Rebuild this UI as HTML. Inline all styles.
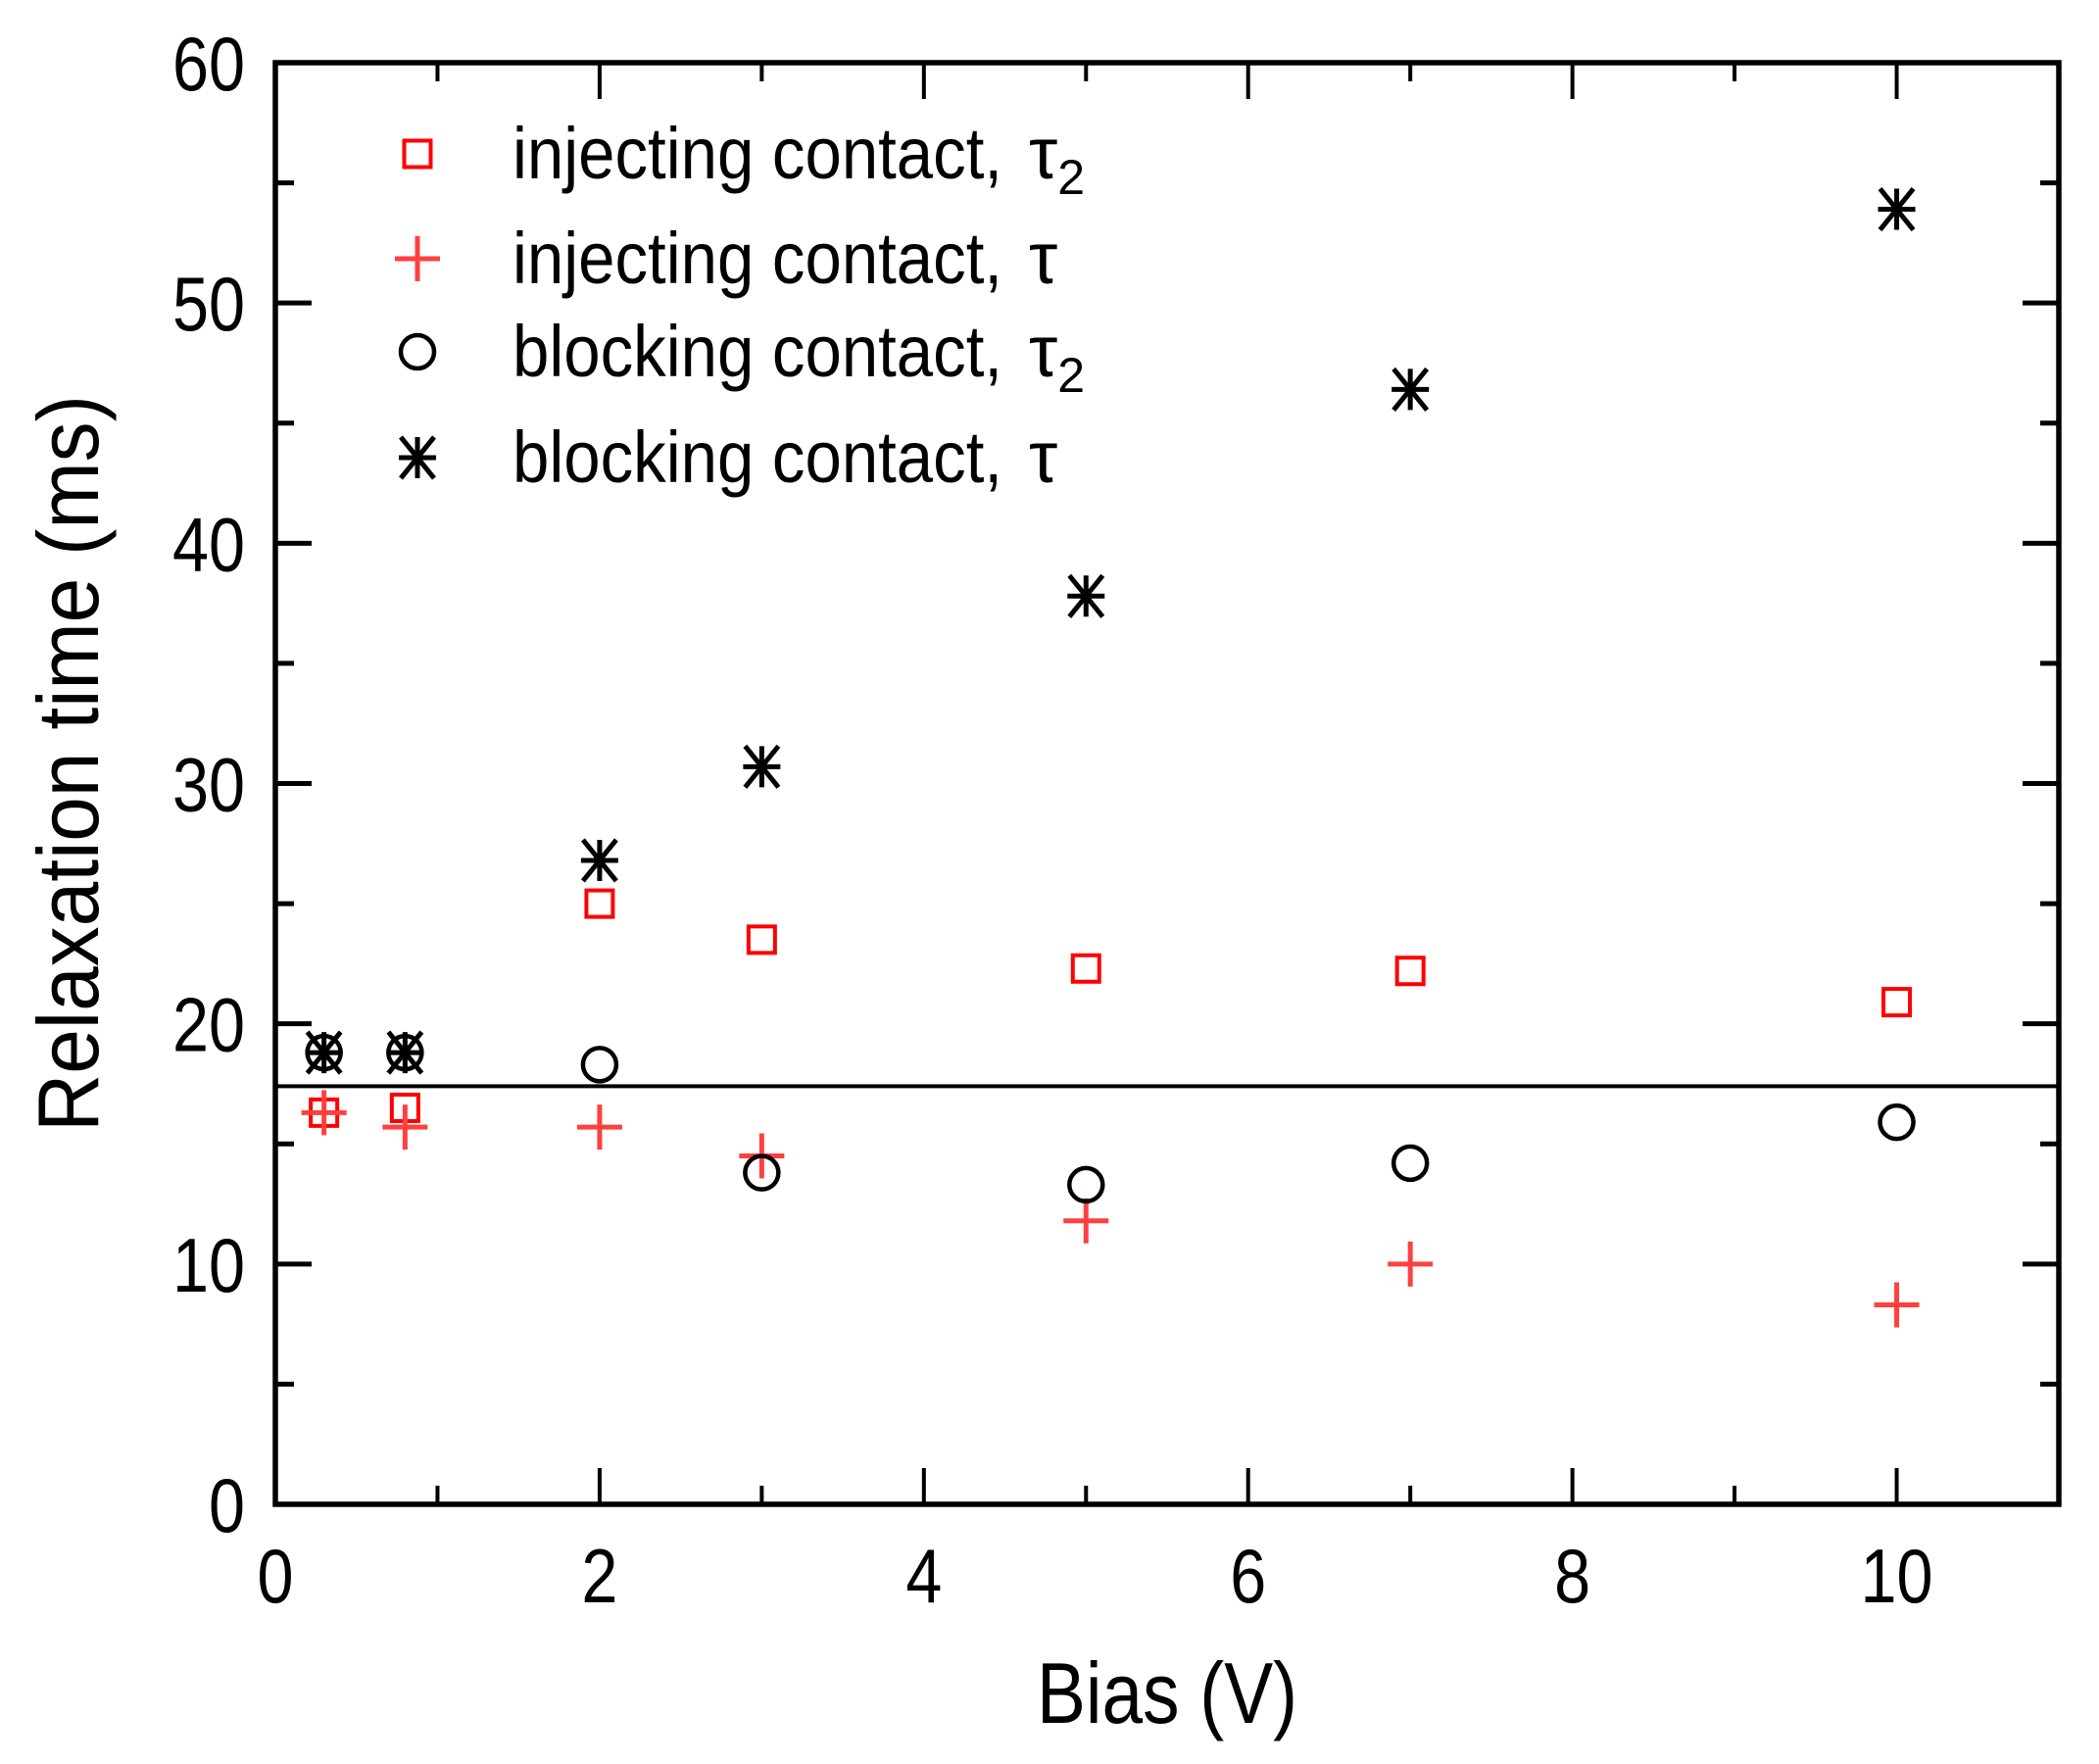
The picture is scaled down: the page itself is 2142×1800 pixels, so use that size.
<!DOCTYPE html>
<html><head><meta charset="utf-8"><style>
html,body{margin:0;padding:0;background:#fff}
svg{display:block}
text{font-family:"Liberation Sans",Arial,sans-serif;fill:#000}
</style></head><body>
<svg id="chart" width="2142" height="1800" viewBox="0 0 2142 1800" xmlns="http://www.w3.org/2000/svg">
<g id="marks"></g>
<g id="axes"></g>
</svg>
<script>
const biasValues = [0.3, 0.8, 2, 3, 5, 7, 10];
const injTau2 = [16.3, 16.5, 25.0, 23.5, 22.3, 22.2, 20.9];
const injTau = [16.3, 15.7, 15.7, 14.5, 11.8, 10.0, 8.3];
const blkTau2 = [18.8, 18.8, 18.3, 13.8, 13.3, 14.2, 15.9];
const blkTau = [18.8, 18.8, 26.8, 30.7, 37.8, 46.4, 53.9];
const refLineValue = 17.4;
const xTicks = [0, 2, 4, 6, 8, 10];
const yTicks = [0, 10, 20, 30, 40, 50, 60];

const L = 281, R = 2101, T = 64, B = 1535;
const xMax = 11, yMax = 60;
const X = v => L + (v / xMax) * (R - L);
const Y = v => B - (v / yMax) * (B - T);
const NS = 'http://www.w3.org/2000/svg';
const marks = document.getElementById('marks');
const axes = document.getElementById('axes');
function mk(tag, attrs, parent) {
  const e = document.createElementNS(NS, tag);
  for (const k in attrs) e.setAttribute(k, attrs[k]);
  parent.appendChild(e);
  return e;
}
const RED = '#ff0000', PLUS = '#ff4040';
function square(cx, cy, parent) {
  return mk('rect', {x: cx - 13.5, y: cy - 13.5, width: 27, height: 27, fill: 'none', stroke: RED, 'stroke-width': 4}, parent);
}
function plus(cx, cy, parent) {
  return mk('path', {d: `M${cx-23} ${cy}H${cx+23}M${cx} ${cy-23}V${cy+23}`, stroke: PLUS, 'stroke-width': 5, fill: 'none'}, parent);
}
function circle(cx, cy, parent) {
  return mk('circle', {cx: cx, cy: cy, r: 17, fill: 'none', stroke: '#000', 'stroke-width': 4.5}, parent);
}
function star(cx, cy, parent) {
  const s = 21, d = 17;
  return mk('path', {d: `M${cx} ${cy-s}V${cy+s}M${cx-d} ${cy-s}L${cx+d} ${cy+s}M${cx+d} ${cy-s}L${cx-d} ${cy+s}M${cx-19} ${cy}H${cx+19}`, stroke: '#000', 'stroke-width': 5, fill: 'none'}, parent);
}

const rl = mk('line', {x1: L, x2: R, y1: Y(refLineValue), y2: Y(refLineValue), stroke: '#000', 'stroke-width': 4}, marks);



biasValues.forEach((b, i) => {
  let e = square(X(b), Y(injTau2[i]), marks);
  
  
  e = plus(X(b), Y(injTau[i]), marks);
  
  
  e = circle(X(b), Y(blkTau2[i]), marks);
  
  
  e = star(X(b), Y(blkTau[i]), marks);
  
  
});

const fr = mk('rect', {x: L, y: T, width: R - L, height: B - T, fill: 'none', stroke: '#000', 'stroke-width': 5.5}, axes);



for (let v = 0; v <= 11; v++) {
  const major = v % 2 === 0, len = major ? 37 : 19;
  mk('line', {x1: X(v), x2: X(v), y1: B, y2: B - len, stroke: '#000', 'stroke-width': 4}, axes);
  mk('line', {x1: X(v), x2: X(v), y1: T, y2: T + len, stroke: '#000', 'stroke-width': 4}, axes);
}
xTicks.forEach(v => {
  const s = String(v);
  const t = mk('text', {x: X(v) - s.length * 18.5, y: 1635, 'font-size': 78, textLength: s.length * 37, lengthAdjust: 'spacingAndGlyphs'}, axes);
  t.textContent = s;
  
  
});
for (let v = 0; v <= 60; v += 5) {
  const major = v % 10 === 0, len = major ? 37 : 19;
  mk('line', {x1: L, x2: L + len, y1: Y(v), y2: Y(v), stroke: '#000', 'stroke-width': 5}, axes);
  mk('line', {x1: R, x2: R - len, y1: Y(v), y2: Y(v), stroke: '#000', 'stroke-width': 5}, axes);
}
yTicks.forEach(v => {
  const s = String(v);
  const t = mk('text', {x: 250 - s.length * 37, y: Y(v) + 28, 'font-size': 78, textLength: s.length * 37, lengthAdjust: 'spacingAndGlyphs'}, axes);
  t.textContent = s;
  
  
});

const xt = mk('text', {x: 1058, y: 1758, 'font-size': 88, textLength: 266, lengthAdjust: 'spacingAndGlyphs'}, axes);
xt.textContent = 'Bias (V)';


const yt = mk('text', {x: -376, y: 0, 'font-size': 88, textLength: 752, lengthAdjust: 'spacingAndGlyphs', transform: 'translate(100,779) rotate(-90)'}, axes);
yt.textContent = 'Relaxation time (ms)';



const legendLabels = ['injecting contact,', 'injecting contact,', 'blocking contact,', 'blocking contact,'];
const legendSub = ['2', '', '2', ''];
const legendY = [157, 264, 359, 467];
const legendFns = [square, plus, circle, star];
const legendNames = ['legend-entry-injecting-tau2', 'legend-entry-injecting-tau', 'legend-entry-blocking-tau2', 'legend-entry-blocking-tau'];
const lg = mk('g', {}, axes);


legendLabels.forEach((lab, i) => {
  const g = mk('g', {}, lg);
  
  
  legendFns[i](426, legendY[i], g);
  const t = mk('text', {x: 523, y: legendY[i] + 25, 'font-size': 74, textLength: 500, lengthAdjust: 'spacingAndGlyphs'}, g);
  t.textContent = lab;
  const t2 = mk('text', {x: 1050, y: legendY[i] + 25, 'font-size': 74, 'font-family': '"Liberation Serif", serif'}, g);
  const s2 = mk('tspan', {}, t2); s2.textContent = 'τ';
  if (legendSub[i]) { const s3 = mk('tspan', {'font-size': 50, dy: 16}, t2); s3.textContent = legendSub[i]; }
});
</script>
</body></html>
